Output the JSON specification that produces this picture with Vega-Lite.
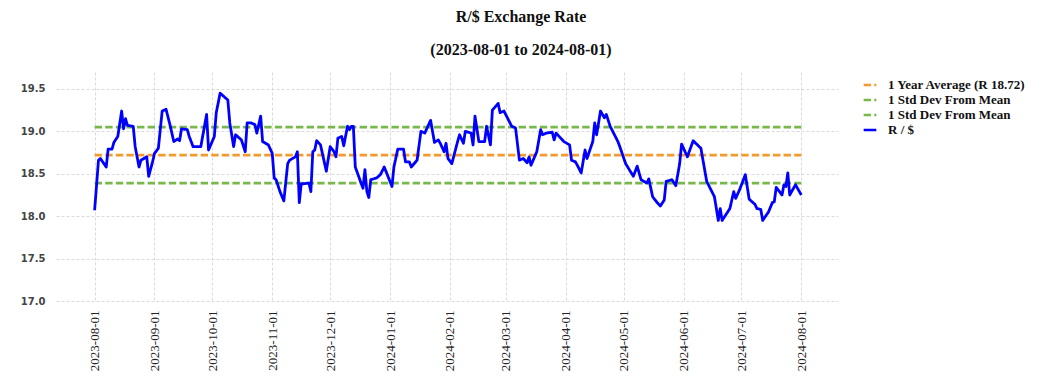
{
  "$schema": "https://vega.github.io/schema/vega-lite/v6.json",
  "autosize": "none",
  "padding": {"left": 56, "top": 72, "right": 206, "bottom": 89},
  "width": 782,
  "height": 229,
  "background": "white",
  "title": {
    "text": ["R/$ Exchange Rate", "(2023-08-01 to 2024-08-01)"],
    "font": "Liberation Serif",
    "fontSize": 16,
    "fontWeight": "bold",
    "color": "#111111",
    "lineHeight": 33,
    "anchor": "middle",
    "dx": 74,
    "offset": 14
  },
  "config": {
    "view": {"stroke": null},
    "axis": {"gridColor": "#d0d0d0", "gridDash": [3, 2], "gridWidth": 0.8, "domain": false, "ticks": false}
  },
  "data": {"values": [
    {"s": "1 Year Average (R 18.72)", "date": "2023-08-01", "v": 18.72},
    {"s": "1 Year Average (R 18.72)", "date": "2024-08-01", "v": 18.72},
    {"s": "1 Std Dev From Mean (upper)", "date": "2023-08-01", "v": 19.05},
    {"s": "1 Std Dev From Mean (upper)", "date": "2024-08-01", "v": 19.05},
    {"s": "1 Std Dev From Mean (lower)", "date": "2023-08-01", "v": 18.39},
    {"s": "1 Std Dev From Mean (lower)", "date": "2024-08-01", "v": 18.39},
    {"s": "R / $", "date": "2023-08-01", "v": 18.07},
    {"s": "R / $", "date": "2023-08-03", "v": 18.66},
    {"s": "R / $", "date": "2023-08-04", "v": 18.68},
    {"s": "R / $", "date": "2023-08-07", "v": 18.58},
    {"s": "R / $", "date": "2023-08-08", "v": 18.79},
    {"s": "R / $", "date": "2023-08-10", "v": 18.79},
    {"s": "R / $", "date": "2023-08-11", "v": 18.87},
    {"s": "R / $", "date": "2023-08-13", "v": 18.94},
    {"s": "R / $", "date": "2023-08-15", "v": 19.24},
    {"s": "R / $", "date": "2023-08-16", "v": 19.03},
    {"s": "R / $", "date": "2023-08-17", "v": 19.15},
    {"s": "R / $", "date": "2023-08-18", "v": 19.07},
    {"s": "R / $", "date": "2023-08-21", "v": 19.06},
    {"s": "R / $", "date": "2023-08-22", "v": 18.82},
    {"s": "R / $", "date": "2023-08-24", "v": 18.58},
    {"s": "R / $", "date": "2023-08-25", "v": 18.66},
    {"s": "R / $", "date": "2023-08-28", "v": 18.70},
    {"s": "R / $", "date": "2023-08-29", "v": 18.47},
    {"s": "R / $", "date": "2023-08-31", "v": 18.64},
    {"s": "R / $", "date": "2023-09-01", "v": 18.74},
    {"s": "R / $", "date": "2023-09-03", "v": 18.80},
    {"s": "R / $", "date": "2023-09-05", "v": 19.24},
    {"s": "R / $", "date": "2023-09-07", "v": 19.26},
    {"s": "R / $", "date": "2023-09-09", "v": 19.08},
    {"s": "R / $", "date": "2023-09-11", "v": 18.88},
    {"s": "R / $", "date": "2023-09-13", "v": 18.91},
    {"s": "R / $", "date": "2023-09-14", "v": 18.89},
    {"s": "R / $", "date": "2023-09-15", "v": 19.03},
    {"s": "R / $", "date": "2023-09-18", "v": 19.02},
    {"s": "R / $", "date": "2023-09-19", "v": 18.94},
    {"s": "R / $", "date": "2023-09-21", "v": 18.82},
    {"s": "R / $", "date": "2023-09-25", "v": 18.82},
    {"s": "R / $", "date": "2023-09-28", "v": 19.20},
    {"s": "R / $", "date": "2023-09-29", "v": 18.78},
    {"s": "R / $", "date": "2023-10-02", "v": 18.94},
    {"s": "R / $", "date": "2023-10-03", "v": 19.22},
    {"s": "R / $", "date": "2023-10-05", "v": 19.45},
    {"s": "R / $", "date": "2023-10-09", "v": 19.37},
    {"s": "R / $", "date": "2023-10-10", "v": 19.10},
    {"s": "R / $", "date": "2023-10-12", "v": 18.82},
    {"s": "R / $", "date": "2023-10-13", "v": 18.96},
    {"s": "R / $", "date": "2023-10-16", "v": 18.90},
    {"s": "R / $", "date": "2023-10-18", "v": 18.76},
    {"s": "R / $", "date": "2023-10-19", "v": 19.10},
    {"s": "R / $", "date": "2023-10-21", "v": 19.10},
    {"s": "R / $", "date": "2023-10-23", "v": 19.08},
    {"s": "R / $", "date": "2023-10-24", "v": 18.98},
    {"s": "R / $", "date": "2023-10-26", "v": 19.18},
    {"s": "R / $", "date": "2023-10-27", "v": 18.88},
    {"s": "R / $", "date": "2023-10-30", "v": 18.84},
    {"s": "R / $", "date": "2023-11-01", "v": 18.74},
    {"s": "R / $", "date": "2023-11-02", "v": 18.45},
    {"s": "R / $", "date": "2023-11-03", "v": 18.43},
    {"s": "R / $", "date": "2023-11-05", "v": 18.29},
    {"s": "R / $", "date": "2023-11-07", "v": 18.18},
    {"s": "R / $", "date": "2023-11-09", "v": 18.62},
    {"s": "R / $", "date": "2023-11-10", "v": 18.66},
    {"s": "R / $", "date": "2023-11-13", "v": 18.70},
    {"s": "R / $", "date": "2023-11-14", "v": 18.76},
    {"s": "R / $", "date": "2023-11-15", "v": 18.16},
    {"s": "R / $", "date": "2023-11-16", "v": 18.38},
    {"s": "R / $", "date": "2023-11-20", "v": 18.39},
    {"s": "R / $", "date": "2023-11-21", "v": 18.29},
    {"s": "R / $", "date": "2023-11-22", "v": 18.76},
    {"s": "R / $", "date": "2023-11-23", "v": 18.78},
    {"s": "R / $", "date": "2023-11-24", "v": 18.89},
    {"s": "R / $", "date": "2023-11-26", "v": 18.84},
    {"s": "R / $", "date": "2023-11-29", "v": 18.53},
    {"s": "R / $", "date": "2023-12-01", "v": 18.82},
    {"s": "R / $", "date": "2023-12-03", "v": 18.76},
    {"s": "R / $", "date": "2023-12-04", "v": 18.70},
    {"s": "R / $", "date": "2023-12-05", "v": 18.92},
    {"s": "R / $", "date": "2023-12-07", "v": 18.94},
    {"s": "R / $", "date": "2023-12-08", "v": 18.83},
    {"s": "R / $", "date": "2023-12-10", "v": 19.06},
    {"s": "R / $", "date": "2023-12-11", "v": 19.02},
    {"s": "R / $", "date": "2023-12-12", "v": 19.06},
    {"s": "R / $", "date": "2023-12-13", "v": 19.06},
    {"s": "R / $", "date": "2023-12-14", "v": 18.58},
    {"s": "R / $", "date": "2023-12-17", "v": 18.39},
    {"s": "R / $", "date": "2023-12-18", "v": 18.33},
    {"s": "R / $", "date": "2023-12-19", "v": 18.55},
    {"s": "R / $", "date": "2023-12-20", "v": 18.29},
    {"s": "R / $", "date": "2023-12-21", "v": 18.22},
    {"s": "R / $", "date": "2023-12-22", "v": 18.43},
    {"s": "R / $", "date": "2023-12-25", "v": 18.45},
    {"s": "R / $", "date": "2023-12-27", "v": 18.49},
    {"s": "R / $", "date": "2023-12-29", "v": 18.58},
    {"s": "R / $", "date": "2024-01-02", "v": 18.35},
    {"s": "R / $", "date": "2024-01-03", "v": 18.58},
    {"s": "R / $", "date": "2024-01-05", "v": 18.79},
    {"s": "R / $", "date": "2024-01-08", "v": 18.79},
    {"s": "R / $", "date": "2024-01-09", "v": 18.64},
    {"s": "R / $", "date": "2024-01-11", "v": 18.64},
    {"s": "R / $", "date": "2024-01-12", "v": 18.58},
    {"s": "R / $", "date": "2024-01-15", "v": 18.66},
    {"s": "R / $", "date": "2024-01-17", "v": 19.00},
    {"s": "R / $", "date": "2024-01-19", "v": 18.98},
    {"s": "R / $", "date": "2024-01-20", "v": 19.03},
    {"s": "R / $", "date": "2024-01-22", "v": 19.13},
    {"s": "R / $", "date": "2024-01-24", "v": 18.87},
    {"s": "R / $", "date": "2024-01-26", "v": 18.90},
    {"s": "R / $", "date": "2024-01-27", "v": 18.86},
    {"s": "R / $", "date": "2024-01-29", "v": 18.76},
    {"s": "R / $", "date": "2024-01-30", "v": 18.86},
    {"s": "R / $", "date": "2024-01-31", "v": 18.68},
    {"s": "R / $", "date": "2024-02-02", "v": 18.62},
    {"s": "R / $", "date": "2024-02-05", "v": 18.88},
    {"s": "R / $", "date": "2024-02-06", "v": 18.96},
    {"s": "R / $", "date": "2024-02-08", "v": 18.86},
    {"s": "R / $", "date": "2024-02-09", "v": 19.00},
    {"s": "R / $", "date": "2024-02-12", "v": 18.98},
    {"s": "R / $", "date": "2024-02-13", "v": 18.84},
    {"s": "R / $", "date": "2024-02-14", "v": 19.18},
    {"s": "R / $", "date": "2024-02-16", "v": 18.88},
    {"s": "R / $", "date": "2024-02-19", "v": 18.88},
    {"s": "R / $", "date": "2024-02-20", "v": 19.06},
    {"s": "R / $", "date": "2024-02-22", "v": 18.84},
    {"s": "R / $", "date": "2024-02-23", "v": 19.25},
    {"s": "R / $", "date": "2024-02-26", "v": 19.33},
    {"s": "R / $", "date": "2024-02-27", "v": 19.22},
    {"s": "R / $", "date": "2024-02-29", "v": 19.24},
    {"s": "R / $", "date": "2024-03-04", "v": 19.06},
    {"s": "R / $", "date": "2024-03-06", "v": 19.04},
    {"s": "R / $", "date": "2024-03-08", "v": 18.66},
    {"s": "R / $", "date": "2024-03-10", "v": 18.68},
    {"s": "R / $", "date": "2024-03-12", "v": 18.63},
    {"s": "R / $", "date": "2024-03-13", "v": 18.70},
    {"s": "R / $", "date": "2024-03-14", "v": 18.60},
    {"s": "R / $", "date": "2024-03-17", "v": 18.76},
    {"s": "R / $", "date": "2024-03-19", "v": 19.02},
    {"s": "R / $", "date": "2024-03-20", "v": 18.96},
    {"s": "R / $", "date": "2024-03-22", "v": 18.98},
    {"s": "R / $", "date": "2024-03-25", "v": 18.99},
    {"s": "R / $", "date": "2024-03-26", "v": 18.90},
    {"s": "R / $", "date": "2024-03-27", "v": 18.98},
    {"s": "R / $", "date": "2024-03-31", "v": 18.88},
    {"s": "R / $", "date": "2024-04-03", "v": 18.84},
    {"s": "R / $", "date": "2024-04-04", "v": 18.66},
    {"s": "R / $", "date": "2024-04-06", "v": 18.64},
    {"s": "R / $", "date": "2024-04-07", "v": 18.60},
    {"s": "R / $", "date": "2024-04-09", "v": 18.51},
    {"s": "R / $", "date": "2024-04-11", "v": 18.78},
    {"s": "R / $", "date": "2024-04-12", "v": 18.68},
    {"s": "R / $", "date": "2024-04-15", "v": 18.88},
    {"s": "R / $", "date": "2024-04-16", "v": 19.10},
    {"s": "R / $", "date": "2024-04-17", "v": 18.96},
    {"s": "R / $", "date": "2024-04-19", "v": 19.24},
    {"s": "R / $", "date": "2024-04-21", "v": 19.16},
    {"s": "R / $", "date": "2024-04-22", "v": 19.20},
    {"s": "R / $", "date": "2024-04-24", "v": 19.06},
    {"s": "R / $", "date": "2024-04-28", "v": 18.88},
    {"s": "R / $", "date": "2024-04-29", "v": 18.82},
    {"s": "R / $", "date": "2024-05-02", "v": 18.62},
    {"s": "R / $", "date": "2024-05-06", "v": 18.47},
    {"s": "R / $", "date": "2024-05-08", "v": 18.59},
    {"s": "R / $", "date": "2024-05-10", "v": 18.43},
    {"s": "R / $", "date": "2024-05-13", "v": 18.39},
    {"s": "R / $", "date": "2024-05-14", "v": 18.44},
    {"s": "R / $", "date": "2024-05-16", "v": 18.23},
    {"s": "R / $", "date": "2024-05-18", "v": 18.17},
    {"s": "R / $", "date": "2024-05-20", "v": 18.12},
    {"s": "R / $", "date": "2024-05-22", "v": 18.19},
    {"s": "R / $", "date": "2024-05-23", "v": 18.41},
    {"s": "R / $", "date": "2024-05-26", "v": 18.43},
    {"s": "R / $", "date": "2024-05-28", "v": 18.36},
    {"s": "R / $", "date": "2024-05-30", "v": 18.62},
    {"s": "R / $", "date": "2024-05-31", "v": 18.85},
    {"s": "R / $", "date": "2024-06-03", "v": 18.70},
    {"s": "R / $", "date": "2024-06-06", "v": 18.89},
    {"s": "R / $", "date": "2024-06-10", "v": 18.80},
    {"s": "R / $", "date": "2024-06-13", "v": 18.41},
    {"s": "R / $", "date": "2024-06-17", "v": 18.23},
    {"s": "R / $", "date": "2024-06-19", "v": 17.95},
    {"s": "R / $", "date": "2024-06-20", "v": 18.09},
    {"s": "R / $", "date": "2024-06-21", "v": 17.95},
    {"s": "R / $", "date": "2024-06-25", "v": 18.09},
    {"s": "R / $", "date": "2024-06-27", "v": 18.29},
    {"s": "R / $", "date": "2024-06-28", "v": 18.21},
    {"s": "R / $", "date": "2024-06-30", "v": 18.31},
    {"s": "R / $", "date": "2024-07-03", "v": 18.49},
    {"s": "R / $", "date": "2024-07-05", "v": 18.20},
    {"s": "R / $", "date": "2024-07-08", "v": 18.14},
    {"s": "R / $", "date": "2024-07-09", "v": 18.09},
    {"s": "R / $", "date": "2024-07-11", "v": 18.08},
    {"s": "R / $", "date": "2024-07-12", "v": 17.95},
    {"s": "R / $", "date": "2024-07-15", "v": 18.05},
    {"s": "R / $", "date": "2024-07-17", "v": 18.16},
    {"s": "R / $", "date": "2024-07-18", "v": 18.17},
    {"s": "R / $", "date": "2024-07-19", "v": 18.34},
    {"s": "R / $", "date": "2024-07-22", "v": 18.25},
    {"s": "R / $", "date": "2024-07-23", "v": 18.37},
    {"s": "R / $", "date": "2024-07-24", "v": 18.35},
    {"s": "R / $", "date": "2024-07-25", "v": 18.51},
    {"s": "R / $", "date": "2024-07-26", "v": 18.25},
    {"s": "R / $", "date": "2024-07-29", "v": 18.37},
    {"s": "R / $", "date": "2024-08-01", "v": 18.25}
  ]},
  "mark": {"type": "line", "strokeWidth": 2.8, "strokeCap": "butt", "strokeJoin": "round"},
  "encoding": {
    "x": {
      "field": "date",
      "type": "temporal",
      "scale": {"type": "utc", "domain": [{"year": 2023, "month": 7, "date": 12, "utc": true}, {"year": 2024, "month": 8, "date": 20, "utc": true}]},
      "axis": {
        "title": null,
        "format": "%Y-%m-%d",
        "tickCount": {"interval": "month", "step": 1},
        "labelAngle": 270,
        "labelFont": "Liberation Serif",
        "labelFontSize": 13,
        "labelColor": "#222222",
        "labelPadding": 9,
        "labelOverlap": false
      }
    },
    "y": {
      "field": "v",
      "type": "quantitative",
      "scale": {"domain": [17, 19.7], "nice": false, "zero": false},
      "axis": {
        "title": null,
        "values": [17, 17.5, 18, 18.5, 19, 19.5],
        "format": ".1f",
        "labelFont": "DejaVu Sans",
        "labelFontWeight": "bold",
        "labelFontSize": 10,
        "labelColor": "#444444",
        "labelPadding": 11
      }
    },
    "color": {
      "field": "s",
      "type": "nominal",
      "scale": {
        "domain": ["1 Year Average (R 18.72)", "1 Std Dev From Mean (upper)", "1 Std Dev From Mean (lower)", "R / $"],
        "range": ["#f39a2e", "#78b84a", "#78b84a", "#0000ff"]
      },
      "legend": {
        "title": null,
        "orient": "right",
        "offset": 19,
        "padding": 5,
        "symbolType": "stroke",
        "symbolSize": 160,
        "symbolStrokeWidth": 2.6,
        "labelFont": "Liberation Serif",
        "labelFontWeight": "bold",
        "labelFontSize": 13,
        "labelColor": "#111111",
        "labelOffset": 10,
        "rowPadding": 0,
        "labelLimit": 300,
        "labelExpr": "indexof(datum.label, '1 Std') == 0 ? '1 Std Dev From Mean' : datum.label"
      }
    },
    "strokeDash": {
      "field": "s",
      "type": "nominal",
      "scale": {
        "domain": ["1 Year Average (R 18.72)", "1 Std Dev From Mean (upper)", "1 Std Dev From Mean (lower)", "R / $"],
        "range": [[7.4, 3.2], [7.4, 3.2], [7.4, 3.2], [1, 0]]
      },
      "legend": {
        "title": null,
        "orient": "right",
        "offset": 19,
        "padding": 5,
        "symbolType": "stroke",
        "symbolSize": 160,
        "symbolStrokeWidth": 2.6,
        "labelFont": "Liberation Serif",
        "labelFontWeight": "bold",
        "labelFontSize": 13,
        "labelColor": "#111111",
        "labelOffset": 10,
        "rowPadding": 0,
        "labelLimit": 300,
        "labelExpr": "indexof(datum.label, '1 Std') == 0 ? '1 Std Dev From Mean' : datum.label"
      }
    }
  }
}
